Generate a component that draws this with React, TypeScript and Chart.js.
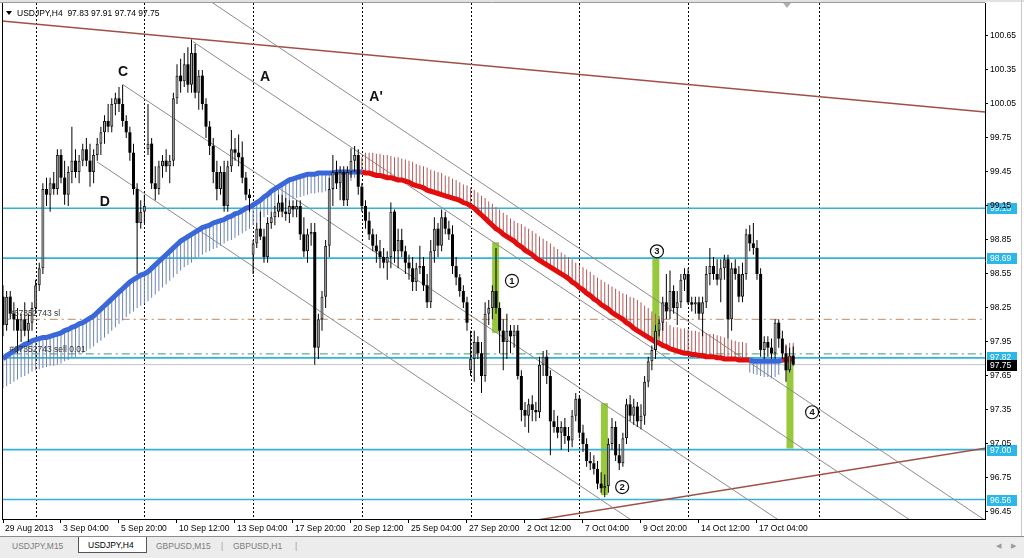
import React, { useEffect, useRef } from "react";
import { Chart, registerables } from "chart.js";

Chart.register(...registerables);

const FONT = "'Liberation Sans', Arial, sans-serif";

// H4 bars: [open, high, low, close]
const ohlc: number[][] = [
  [98.35, 98.45, 98.0, 98.1], [98.1, 98.4, 98.05, 98.35], [98.35, 98.4, 98.15, 98.2], [98.2, 98.3, 98.05, 98.15], [98.15, 98.25, 97.85, 98.05],
  [98.05, 98.2, 97.95, 98.15], [98.15, 98.3, 98.0, 98.05], [98.05, 98.2, 97.95, 98.12], [98.12, 98.3, 98.05, 98.25], [98.25, 98.5, 98.2, 98.45],
  [98.45, 98.65, 98.4, 98.6], [98.6, 99.35, 98.55, 99.3], [99.3, 99.4, 99.15, 99.25], [99.25, 99.4, 99.1, 99.35], [99.35, 99.45, 99.25, 99.3],
  [99.3, 99.65, 99.25, 99.6], [99.6, 99.65, 99.35, 99.4], [99.4, 99.55, 99.16, 99.25], [99.25, 99.5, 99.15, 99.45], [99.45, 99.85, 99.35, 99.55],
  [99.55, 99.65, 99.4, 99.45], [99.45, 99.6, 99.35, 99.55], [99.55, 99.7, 99.5, 99.65], [99.65, 99.75, 99.5, 99.55], [99.55, 99.7, 99.32, 99.45],
  [99.45, 99.65, 99.35, 99.6], [99.6, 99.75, 99.55, 99.7], [99.7, 99.85, 99.6, 99.8], [99.8, 99.95, 99.7, 99.9], [99.9, 100.05, 99.8, 99.85],
  [99.85, 100.1, 99.8, 100.05], [100.05, 100.15, 99.95, 100.1], [100.1, 100.2, 99.98, 100.05], [100.05, 100.22, 99.85, 99.9], [99.9, 99.95, 99.75, 99.8],
  [99.8, 99.85, 99.55, 99.62], [99.62, 99.7, 99.25, 99.3], [99.3, 99.35, 98.55, 99.0], [99.0, 99.2, 98.95, 99.1], [99.1, 99.25, 99.0, 99.15],
  [99.65, 100.05, 99.6, 99.7], [99.7, 99.75, 99.3, 99.35], [99.35, 99.5, 99.2, 99.3], [99.3, 99.55, 99.25, 99.5], [99.5, 99.6, 99.4, 99.55],
  [99.55, 99.65, 99.45, 99.5], [99.5, 99.6, 99.35, 99.55], [99.55, 100.15, 99.5, 100.1], [100.1, 100.4, 100.05, 100.3], [100.3, 100.45, 100.15, 100.25],
  [100.25, 100.5, 100.2, 100.4], [100.4, 100.55, 100.15, 100.22], [100.22, 100.62, 100.15, 100.5], [100.5, 100.58, 100.1, 100.15], [100.15, 100.35, 100.0, 100.3],
  [100.3, 100.35, 100.0, 100.05], [100.05, 100.1, 99.75, 99.85], [99.85, 99.9, 99.6, 99.68], [99.68, 99.75, 99.35, 99.45], [99.45, 99.55, 99.2, 99.3],
  [99.3, 99.5, 99.25, 99.45], [99.45, 99.55, 99.1, 99.15], [99.15, 99.55, 99.1, 99.5], [99.5, 99.82, 99.45, 99.65], [99.65, 99.75, 99.55, 99.62],
  [99.62, 99.78, 99.5, 99.58], [99.58, 99.72, 99.35, 99.4], [99.4, 99.45, 99.2, 99.25], [99.25, 99.3, 99.1, 99.22], [98.72, 98.85, 98.55, 98.82],
  [98.82, 99.0, 98.78, 98.95], [98.95, 99.1, 98.85, 98.88], [98.88, 98.95, 98.65, 98.7], [98.7, 99.05, 98.65, 99.0], [99.0, 99.1, 98.95, 99.05],
  [99.05, 99.15, 98.98, 99.1], [99.1, 99.25, 99.05, 99.18], [99.18, 99.25, 99.05, 99.1], [99.1, 99.22, 99.02, 99.08], [99.08, 99.2, 99.0, 99.15],
  [99.15, 99.2, 99.05, 99.12], [99.12, 99.2, 99.05, 99.15], [99.15, 99.2, 98.85, 98.9], [98.9, 99.05, 98.7, 98.75], [98.75, 98.95, 98.65, 98.9],
  [98.9, 99.0, 98.8, 98.92], [98.92, 99.0, 97.75, 97.9], [97.9, 98.2, 97.8, 98.15], [98.15, 98.4, 98.05, 98.35], [98.35, 98.85, 98.25, 98.8],
  [98.8, 99.4, 98.7, 99.3], [99.3, 99.6, 99.15, 99.45], [99.45, 99.55, 99.3, 99.35], [99.35, 99.5, 99.2, 99.45], [99.45, 99.5, 99.15, 99.2],
  [99.2, 99.5, 99.15, 99.45], [99.45, 99.66, 99.4, 99.55], [99.55, 99.68, 99.45, 99.6], [99.6, 99.65, 99.25, 99.32], [99.32, 99.35, 99.1, 99.15],
  [99.15, 99.2, 98.95, 99.02], [99.02, 99.1, 98.85, 98.9], [98.9, 98.95, 98.75, 98.8], [98.8, 98.9, 98.65, 98.75], [98.75, 98.85, 98.6, 98.7],
  [98.7, 98.78, 98.6, 98.65], [98.65, 98.75, 98.5, 98.7], [98.7, 99.18, 98.6, 99.1], [99.1, 99.12, 98.65, 98.75], [98.75, 98.95, 98.6, 98.85],
  [98.85, 98.95, 98.7, 98.75], [98.75, 98.8, 98.55, 98.65], [98.65, 98.72, 98.5, 98.6], [98.6, 98.7, 98.4, 98.48], [98.48, 98.65, 98.4, 98.6],
  [98.6, 98.8, 98.55, 98.62], [98.62, 98.7, 98.4, 98.45], [98.45, 98.55, 98.25, 98.3], [98.3, 98.85, 98.25, 98.75], [98.75, 99.05, 98.65, 98.95],
  [98.95, 99.0, 98.7, 98.8], [98.8, 99.12, 98.75, 99.05], [99.05, 99.1, 98.9, 98.95], [98.95, 99.02, 98.85, 98.9], [98.9, 98.98, 98.55, 98.62],
  [98.62, 98.7, 98.45, 98.52], [98.52, 98.55, 98.35, 98.4], [98.4, 98.45, 98.25, 98.3], [98.3, 98.35, 98.05, 98.12], [97.7, 98.05, 97.65, 97.8],
  [97.8, 98.05, 97.6, 97.95], [97.95, 98.0, 97.8, 97.85], [97.85, 97.95, 97.5, 97.65], [97.65, 98.3, 97.6, 98.2], [98.2, 98.32, 98.1, 98.25],
  [98.25, 98.45, 98.15, 98.4], [98.4, 98.78, 98.2, 98.25], [98.25, 98.3, 97.85, 98.05], [98.05, 98.15, 97.7, 97.95], [97.95, 98.2, 97.8, 98.05],
  [98.05, 98.1, 97.85, 98.0], [98.0, 98.1, 97.9, 98.05], [98.05, 98.1, 97.62, 97.65], [97.65, 97.7, 97.25, 97.35], [97.35, 97.42, 97.2, 97.3],
  [97.3, 97.45, 97.15, 97.4], [97.4, 97.48, 97.25, 97.35], [97.35, 97.42, 97.25, 97.33], [97.33, 97.82, 97.28, 97.75], [97.75, 97.87, 97.65, 97.82],
  [97.82, 97.88, 97.58, 97.65], [97.65, 97.7, 96.95, 97.25], [97.25, 97.35, 97.15, 97.2], [97.2, 97.3, 97.1, 97.15], [97.15, 97.25, 97.0, 97.2],
  [97.2, 97.28, 97.05, 97.12], [97.12, 97.2, 96.98, 97.08], [97.08, 97.35, 97.02, 97.3], [97.3, 97.5, 97.25, 97.45], [97.45, 97.48, 97.1, 97.15],
  [97.15, 97.22, 96.98, 97.05], [97.05, 97.1, 96.85, 96.9], [96.9, 96.98, 96.82, 96.88], [96.88, 96.95, 96.78, 96.83], [96.83, 96.9, 96.65, 96.7],
  [96.7, 96.8, 96.62, 96.66], [96.66, 96.78, 96.58, 96.68], [96.68, 97.1, 96.62, 97.05], [97.05, 97.28, 97.0, 97.2], [97.2, 97.25, 96.9, 96.95],
  [96.95, 97.05, 96.82, 96.88], [96.88, 97.15, 96.85, 97.1], [97.1, 97.45, 97.05, 97.4], [97.4, 97.48, 97.25, 97.3], [97.3, 97.45, 97.22, 97.38],
  [97.38, 97.42, 97.2, 97.25], [97.25, 97.4, 97.18, 97.3], [97.3, 97.65, 97.22, 97.6], [97.6, 97.82, 97.55, 97.78], [97.78, 97.92, 97.7, 97.88],
  [97.88, 98.1, 97.8, 98.05], [98.05, 98.15, 98.0, 98.12], [98.12, 98.35, 98.05, 98.3], [98.3, 98.55, 98.15, 98.22], [98.22, 98.58, 98.15, 98.4],
  [98.4, 98.45, 98.2, 98.25], [98.25, 98.4, 98.1, 98.3], [98.3, 98.55, 98.25, 98.5], [98.5, 98.6, 98.4, 98.55], [98.55, 98.6, 98.28, 98.3],
  [98.3, 98.35, 98.22, 98.28], [98.28, 98.35, 98.2, 98.3], [98.3, 98.35, 98.15, 98.2], [98.2, 98.35, 98.0, 98.3], [98.3, 98.62, 98.25, 98.55],
  [98.55, 98.78, 98.45, 98.62], [98.62, 98.7, 98.5, 98.55], [98.55, 98.68, 98.45, 98.5], [98.5, 98.68, 98.3, 98.6], [98.6, 98.72, 98.5, 98.68],
  [98.68, 98.72, 97.98, 98.15], [98.15, 98.65, 98.05, 98.6], [98.6, 98.68, 98.5, 98.55], [98.55, 98.62, 98.3, 98.35], [98.35, 98.65, 98.3, 98.55],
  [98.55, 98.95, 98.5, 98.9], [98.9, 98.98, 98.75, 98.82], [98.82, 99.0, 98.72, 98.78], [98.78, 98.85, 98.5, 98.55], [98.55, 98.6, 97.82, 97.88],
  [97.88, 98.0, 97.8, 97.95], [97.95, 98.0, 97.82, 97.9], [97.9, 97.98, 97.8, 97.85], [97.85, 98.15, 97.8, 98.12], [98.12, 98.15, 97.9, 97.98],
  [97.98, 98.05, 97.8, 97.85], [97.85, 97.92, 97.6, 97.7], [97.7, 97.9, 97.68, 97.83], [97.83, 97.91, 97.74, 97.75],
];

// Trend ribbon: thick edge and hatched edge, one value per bar
const maFast = [
  97.8, 97.83, 97.85, 97.87, 97.89, 97.91, 97.93, 97.94, 97.96, 97.97,
  97.98, 97.99, 97.99, 98.0, 98.01, 98.02, 98.03, 98.05, 98.06, 98.08,
  98.09, 98.11, 98.12, 98.14, 98.16, 98.18, 98.21, 98.24, 98.27, 98.3,
  98.33, 98.36, 98.39, 98.42, 98.45, 98.48, 98.5, 98.52, 98.54, 98.55,
  98.57, 98.6, 98.63, 98.66, 98.69, 98.72, 98.75, 98.78, 98.81, 98.84,
  98.86, 98.88, 98.9, 98.92, 98.94, 98.96, 98.97, 98.98, 99.0, 99.01,
  99.02, 99.03, 99.05, 99.06, 99.08, 99.09, 99.11, 99.13, 99.14, 99.16,
  99.18, 99.2, 99.23, 99.25, 99.28, 99.3, 99.32, 99.34, 99.36, 99.38,
  99.39, 99.4, 99.41, 99.42, 99.43, 99.43, 99.43, 99.44, 99.44, 99.44,
  99.44, 99.44, 99.45, 99.45, 99.45, 99.45, 99.45, 99.45, 99.45, 99.45,
  99.44, 99.44, 99.43, 99.42, 99.42, 99.41, 99.4, 99.4, 99.39, 99.38,
  99.38, 99.37, 99.36, 99.34, 99.33, 99.32, 99.31, 99.29, 99.28, 99.27,
  99.26, 99.25, 99.24, 99.23, 99.22, 99.21, 99.2, 99.18, 99.17, 99.15,
  99.13, 99.1, 99.07, 99.04, 99.01, 98.98, 98.95, 98.93, 98.9, 98.88,
  98.86, 98.84, 98.81, 98.79, 98.76, 98.74, 98.72, 98.69, 98.67, 98.65,
  98.63, 98.61, 98.59, 98.57, 98.55, 98.53, 98.51, 98.48, 98.46, 98.43,
  98.41, 98.38, 98.36, 98.33, 98.31, 98.28, 98.26, 98.24, 98.21, 98.19,
  98.17, 98.15, 98.12, 98.1, 98.07, 98.05, 98.03, 98.01, 97.99, 97.97,
  97.95, 97.94, 97.92, 97.91, 97.89, 97.88, 97.87, 97.86, 97.85, 97.85,
  97.84, 97.84, 97.83, 97.83, 97.82, 97.82, 97.82, 97.81, 97.81, 97.8,
  97.8, 97.8, 97.8, 97.79, 97.79, 97.79, 97.79, 97.78, 97.78, 97.78,
  97.78, 97.78, 97.78, 97.78, 97.78, 97.79, 97.79, 97.8, 97.8,
];
const maSlow = [
  97.54, 97.56, 97.58, 97.6, 97.62, 97.64, 97.65, 97.67, 97.69, 97.7,
  97.71, 97.72, 97.73, 97.74, 97.74, 97.75, 97.76, 97.78, 97.79, 97.81,
  97.82, 97.84, 97.85, 97.87, 97.89, 97.91, 97.94, 97.96, 97.99, 98.02,
  98.05, 98.08, 98.11, 98.14, 98.17, 98.2, 98.22, 98.25, 98.27, 98.29,
  98.31, 98.34, 98.37, 98.4, 98.43, 98.46, 98.49, 98.52, 98.55, 98.58,
  98.61, 98.63, 98.65, 98.68, 98.7, 98.72, 98.74, 98.75, 98.77, 98.78,
  98.8, 98.82, 98.84, 98.85, 98.87, 98.89, 98.91, 98.93, 98.95, 98.98,
  99.0, 99.02, 99.05, 99.07, 99.1, 99.12, 99.14, 99.16, 99.18, 99.2,
  99.21, 99.22, 99.23, 99.24, 99.25, 99.26, 99.26, 99.27, 99.27, 99.28,
  99.28, 99.29, 99.3, 99.31, 99.33, 99.35, 99.37, 99.4, 99.42, 99.58,
  99.62, 99.62, 99.62, 99.61, 99.61, 99.6, 99.6, 99.59, 99.58, 99.58,
  99.57, 99.56, 99.55, 99.54, 99.52, 99.51, 99.5, 99.49, 99.47, 99.46,
  99.45, 99.44, 99.42, 99.41, 99.39, 99.38, 99.36, 99.34, 99.33, 99.31,
  99.29, 99.27, 99.24, 99.22, 99.19, 99.17, 99.14, 99.12, 99.09, 99.07,
  99.04, 99.02, 99.0, 98.99, 98.97, 98.95, 98.93, 98.91, 98.88, 98.86,
  98.84, 98.82, 98.79, 98.77, 98.74, 98.72, 98.7, 98.68, 98.65, 98.63,
  98.61, 98.59, 98.57, 98.54, 98.52, 98.5, 98.48, 98.46, 98.44, 98.42,
  98.4, 98.38, 98.37, 98.35, 98.34, 98.32, 98.3, 98.27, 98.25, 98.22,
  98.2, 98.18, 98.15, 98.13, 98.1, 98.08, 98.08, 98.07, 98.07, 98.06,
  98.05, 98.05, 98.04, 98.04, 98.03, 98.02, 98.02, 98.01, 98.0, 97.99,
  97.98, 97.97, 97.96, 97.95, 97.95, 97.94, 97.68, 97.67, 97.66, 97.65,
  97.64, 97.64, 97.63, 97.64, 97.66, 97.92, 97.93, 97.94, 97.94,
];

const timeTickBars = [0, 16, 32, 48, 64, 80, 96, 112, 128, 144, 160, 176, 192, 208];
const timeLabels = [
  "29 Aug 2013", "3 Sep 04:00", "5 Sep 20:00", "10 Sep 12:00", "13 Sep 04:00", "17 Sep 20:00", "20 Sep 12:00",
  "25 Sep 04:00", "27 Sep 20:00", "2 Oct 12:00", "7 Oct 04:00", "9 Oct 20:00", "14 Oct 12:00", "17 Oct 04:00",
];
const gridBars = [9, 39, 69, 99, 129, 159, 189, 225];
const priceTicks = [96.45, 96.75, 97.05, 97.35, 97.65, 97.95, 98.25, 98.55, 98.85, 99.15, 99.45, 99.75, 100.05, 100.35, 100.65];

const supportLevels = [99.13, 98.69, 97.81, 97.0, 96.56];
const tagPrices = [99.13, 98.69, 97.82, 97.0, 96.56];
const stopLossLevel = 98.15;
const orderLevel = 97.845;

// [startBar, startPrice, endBar, endPrice]
const channelLines = [
  [25.9, 99.54, 177.0, 96.3],
  [33.1, 100.22, 217.7, 96.3],
  [52.4, 100.6, 253.9, 96.3],
  [50.0, 101.11, 274.5, 96.3],
];
const brownLines = [
  [-1, 100.784, 272, 99.977],
  [131.9, 96.3, 272, 97.017],
];

const signalBars = [135.9, 165.9, 180.1, 217.1];
const signalHigh = [98.83, 97.41, 98.78, 97.82];
const signalLow = [98.03, 96.6, 97.97, 97.01];

const markBars = [140.4, 170.8, 180.4, 223.2];
const markPrices = [98.49, 96.67, 98.75, 97.33];
const markTexts = ["1", "2", "3", "4"];

const waveBars = [33.1, 72.3, 102.9, 28.1];
const wavePrices = [100.33, 100.29, 100.11, 99.18];
const waveTexts = ["C", "A", "A'", "D"];

const orderTexts = ["#67352743 sl", "#67352743 sell 0.01"];
const orderTextPrices = [98.2, 97.88];
const orderTextBar = 1.7;

const BAR_MIN = -0.276;
const BAR_MAX = 270.9;
const PRICE_MIN = 96.388;
const PRICE_MAX = 100.941;

const hLine = (price: number, color: string, width: number, dash: number[], order: number) => ({
  type: "line",
  data: [
    { x: -2, y: price },
    { x: 275, y: price },
  ],
  borderColor: color,
  borderWidth: width,
  borderDash: dash,
  pointRadius: 0,
  order,
});

export default function App() {
  const ref = useRef<HTMLCanvasElement>(null);

  useEffect(() => {
    const canvas = ref.current;
    if (!canvas) return;
    const isBull = (c: number[]) => c[3] >= c[0];
    const last = ohlc[ohlc.length - 1];

    const decor = {
      id: "decor",
      beforeDraw(chart: any) {
        const { ctx, width, height, chartArea } = chart;
        const ys = chart.scales.y;
        ctx.save();
        ctx.fillStyle = "#ffffff";
        ctx.fillRect(0, 0, width, height);
        ctx.fillStyle = "#e2e2e2";
        ctx.fillRect(0, 0, width, 2);
        ctx.fillStyle = "#c8c8c8";
        ctx.fillRect(width - 3, 0, 1, height);
        ctx.font = `8.5px ${FONT}`;
        ctx.textBaseline = "middle";
        ctx.textAlign = "left";
        tagPrices.forEach((p) => {
          const py = Math.round(ys.getPixelForValue(p));
          ctx.fillStyle = "#2cb7e8";
          ctx.fillRect(chartArea.right + 2, py - 5, 30, 11);
          ctx.fillStyle = "#ffffff";
          ctx.fillText(p.toFixed(2), chartArea.right + 5, py + 0.5);
        });
        const bp = Math.round(ys.getPixelForValue(last[3]));
        ctx.fillStyle = "#000000";
        ctx.fillRect(chartArea.right + 2, bp - 5, 30, 11);
        ctx.fillStyle = "#ffffff";
        ctx.fillText(last[3].toFixed(2), chartArea.right + 5, bp + 0.5);
        ctx.restore();
      },
      beforeDatasetsDraw(chart: any) {
        const { ctx, chartArea } = chart;
        const xs = chart.scales.x;
        ctx.save();
        ctx.strokeStyle = "#000";
        ctx.lineWidth = 1;
        ctx.setLineDash([2, 2]);
        gridBars.forEach((b) => {
          const px = Math.round(xs.getPixelForValue(b)) + 0.5;
          ctx.beginPath();
          ctx.moveTo(px, chartArea.top);
          ctx.lineTo(px, chartArea.bottom);
          ctx.stroke();
        });
        ctx.restore();
      },
      afterDatasetsDraw(chart: any) {
        const { ctx, chartArea } = chart;
        const xs = chart.scales.x;
        const ys = chart.scales.y;
        ctx.save();
        ctx.font = `8.5px ${FONT}`;
        ctx.fillStyle = "#333";
        ctx.textAlign = "left";
        ctx.textBaseline = "middle";
        orderTexts.forEach((t, k) => {
          ctx.fillText(t, xs.getPixelForValue(orderTextBar), ys.getPixelForValue(orderTextPrices[k]));
        });
        ctx.font = `bold 14px ${FONT}`;
        ctx.fillStyle = "#111";
        ctx.textAlign = "center";
        waveTexts.forEach((t, k) => {
          ctx.fillText(t, xs.getPixelForValue(waveBars[k]), ys.getPixelForValue(wavePrices[k]));
        });
        markTexts.forEach((t, k) => {
          const px = xs.getPixelForValue(markBars[k]);
          const py = ys.getPixelForValue(markPrices[k]);
          ctx.beginPath();
          ctx.arc(px, py, 6.5, 0, Math.PI * 2);
          ctx.fillStyle = "#fff";
          ctx.fill();
          ctx.lineWidth = 1.2;
          ctx.strokeStyle = "#111";
          ctx.stroke();
          ctx.fillStyle = "#111";
          ctx.font = `bold 9.5px ${FONT}`;
          ctx.fillText(t, px, py + 0.5);
        });
        ctx.strokeStyle = "#000";
        ctx.lineWidth = 1;
        ctx.beginPath();
        ctx.moveTo(chartArea.left + 0.5, chartArea.top);
        ctx.lineTo(chartArea.left + 0.5, chartArea.bottom);
        ctx.stroke();
        ctx.strokeStyle = "#9a9a9a";
        ctx.beginPath();
        ctx.moveTo(0, chartArea.top - 0.5);
        ctx.lineTo(chartArea.right, chartArea.top - 0.5);
        ctx.stroke();
        ctx.fillStyle = "#000";
        ctx.beginPath();
        ctx.moveTo(6, 11);
        ctx.lineTo(12, 11);
        ctx.lineTo(9, 15);
        ctx.closePath();
        ctx.fill();
        ctx.font = `8.5px ${FONT}`;
        ctx.textAlign = "left";
        ctx.textBaseline = "middle";
        ctx.fillText(`USDJPY,H4  ${last.map((v) => v.toFixed(2)).join(" ")}`, 17, 13.5);
        ctx.fillStyle = "#b0b0b0";
        ctx.beginPath();
        ctx.moveTo(783, chartArea.top);
        ctx.lineTo(791, chartArea.top);
        ctx.lineTo(787, chartArea.top + 5);
        ctx.closePath();
        ctx.fill();
        ctx.restore();
      },
    };

    const datasets: any[] = [
      {
        type: "bar",
        label: "bodies",
        data: ohlc.map((c, i) => ({ x: i, y: [c[0], c[3]] })),
        backgroundColor: ohlc.map((c) => (isBull(c) ? "#a8a8a8" : "#000000")),
        borderColor: "#1a1a1a",
        borderWidth: ohlc.map((c) => (isBull(c) ? 1 : 0)),
        borderSkipped: false,
        barThickness: 3,
        minBarLength: 1,
        inflateAmount: 0,
        order: 1,
      },
      {
        type: "bar",
        label: "wicks",
        data: ohlc.map((c, i) => ({ x: i, y: [c[2], c[1]] })),
        backgroundColor: "#000000",
        barThickness: 1,
        inflateAmount: 0,
        order: 2,
      },
      {
        type: "line",
        label: "ribbon",
        data: maFast.map((v, i) => ({ x: i, y: v })),
        borderWidth: 5,
        pointRadius: 0,
        segment: {
          borderColor: (ctx: any) =>
            maSlow[ctx.p0DataIndex] < maFast[ctx.p0DataIndex] ? "#3b68d8" : "#e20d0d",
        },
        order: 3,
      },
      {
        type: "bar",
        label: "hatch",
        data: maFast.map((v, i) => ({ x: i, y: [v, maSlow[i]] })),
        backgroundColor: maFast.map((v, i) => (maSlow[i] < v ? "#6d85b3" : "#b25858")),
        barThickness: 1,
        inflateAmount: 0,
        order: 4,
      },
      ...channelLines.map((l) => ({
        type: "line",
        data: [
          { x: l[0], y: l[1] },
          { x: l[2], y: l[3] },
        ],
        borderColor: "#8c8c8c",
        borderWidth: 1,
        pointRadius: 0,
        order: 5,
      })),
      ...brownLines.map((l) => ({
        type: "line",
        data: [
          { x: l[0], y: l[1] },
          { x: l[2], y: l[3] },
        ],
        borderColor: "#a24e48",
        borderWidth: 1.5,
        pointRadius: 0,
        order: 5,
      })),
      ...supportLevels.map((p) => hLine(p, "#35b2d8", 1.7, [], 5)),
      hLine(stopLossLevel, "#bf8a66", 1, [8, 4, 2, 4], 5),
      hLine(orderLevel, "#3f9a6a", 1, [8, 4, 2, 4], 5),
      hLine(last[3], "#c4c4c4", 1, [], 5),
      {
        type: "bar",
        label: "signals",
        data: signalBars.map((x, k) => ({ x, y: [signalLow[k], signalHigh[k]] })),
        backgroundColor: "#98c93c",
        barThickness: 7,
        inflateAmount: 0,
        order: 6,
      },
    ];

    const chart = new Chart(canvas, {
      type: "bar",
      data: { datasets },
      plugins: [decor],
      options: {
        animation: false,
        responsive: false,
        maintainAspectRatio: false,
        devicePixelRatio: 1,
        events: [],
        layout: { padding: { left: 2, top: 3, right: 0, bottom: 0 } },
        plugins: { legend: { display: false }, tooltip: { enabled: false } },
        scales: {
          x: {
            type: "linear",
            offset: false,
            stacked: true,
            min: BAR_MIN,
            max: BAR_MAX,
            afterBuildTicks: (s: any) => {
              s.ticks = timeTickBars.map((v) => ({ value: v }));
            },
            afterFit: (s: any) => {
              s.height = 17;
              s.paddingLeft = 0;
              s.paddingRight = 0;
            },
            ticks: {
              autoSkip: false,
              maxRotation: 0,
              minRotation: 0,
              align: "start",
              labelOffset: 2,
              padding: 1,
              color: "#000",
              font: { family: FONT, size: 8.5 },
              callback: (_v: any, idx: number) => timeLabels[idx],
            },
            grid: { offset: false, drawOnChartArea: false, drawTicks: true, tickLength: 4, color: "#000" },
            border: { display: true, color: "#000" },
          },
          y: {
            type: "linear",
            position: "right",
            stacked: false,
            min: PRICE_MIN,
            max: PRICE_MAX,
            afterBuildTicks: (s: any) => {
              s.ticks = priceTicks.map((v) => ({ value: v }));
            },
            afterFit: (s: any) => {
              s.width = 39;
              s.paddingTop = 0;
              s.paddingBottom = 0;
            },
            ticks: {
              padding: 2,
              color: "#000",
              font: { family: FONT, size: 8.5 },
              callback: (v: any) => Number(v).toFixed(2),
            },
            grid: { drawOnChartArea: false, drawTicks: true, tickLength: 3, color: "#000" },
            border: { display: true, color: "#000" },
          },
        },
      } as any,
    } as any);
    return () => chart.destroy();
  }, []);

  const tabText: React.CSSProperties = {
    position: "absolute",
    top: 4,
    fontFamily: FONT,
    fontSize: "8.5px",
    color: "#7c7c7c",
    whiteSpace: "nowrap",
  };

  return (
    <div
      style={{
        position: "fixed",
        left: 0,
        top: 0,
        width: 1024,
        height: 558,
        background: "#f0f0f0",
        overflow: "hidden",
      }}
    >
      <canvas ref={ref} width={1024} height={536} style={{ position: "absolute", left: 0, top: 0, width: 1024, height: 536 }} />
      <div
        style={{
          position: "absolute",
          left: 0,
          top: 536,
          width: 1024,
          height: 22,
          background: "#ececec",
          borderTop: "1px solid #8c8c8c",
          boxSizing: "border-box",
        }}
      >
        <span style={{ ...tabText, left: 12 }}>USDJPY,M15</span>
        <div
          style={{
            position: "absolute",
            left: 78,
            top: 0,
            width: 69,
            height: 16,
            background: "#ffffff",
            borderLeft: "1px solid #555",
            borderRight: "1px solid #555",
            borderBottom: "1px solid #555",
            boxSizing: "border-box",
          }}
        >
          <span style={{ ...tabText, left: 9, top: 3, color: "#000" }}>USDJPY,H4</span>
        </div>
        <span style={{ ...tabText, left: 156 }}>GBPUSD,M15</span>
        <span style={{ ...tabText, left: 221, color: "#9a9a9a" }}>|</span>
        <span style={{ ...tabText, left: 233 }}>GBPUSD,H1</span>
        <span style={{ ...tabText, left: 295, color: "#9a9a9a" }}>|</span>
        <span style={{ ...tabText, left: 996, color: "#9a9a9a", fontSize: "7px", top: 5 }}>◀</span>
        <span style={{ ...tabText, left: 1011, color: "#9a9a9a", fontSize: "7px", top: 5 }}>▶</span>
      </div>
    </div>
  );
}
